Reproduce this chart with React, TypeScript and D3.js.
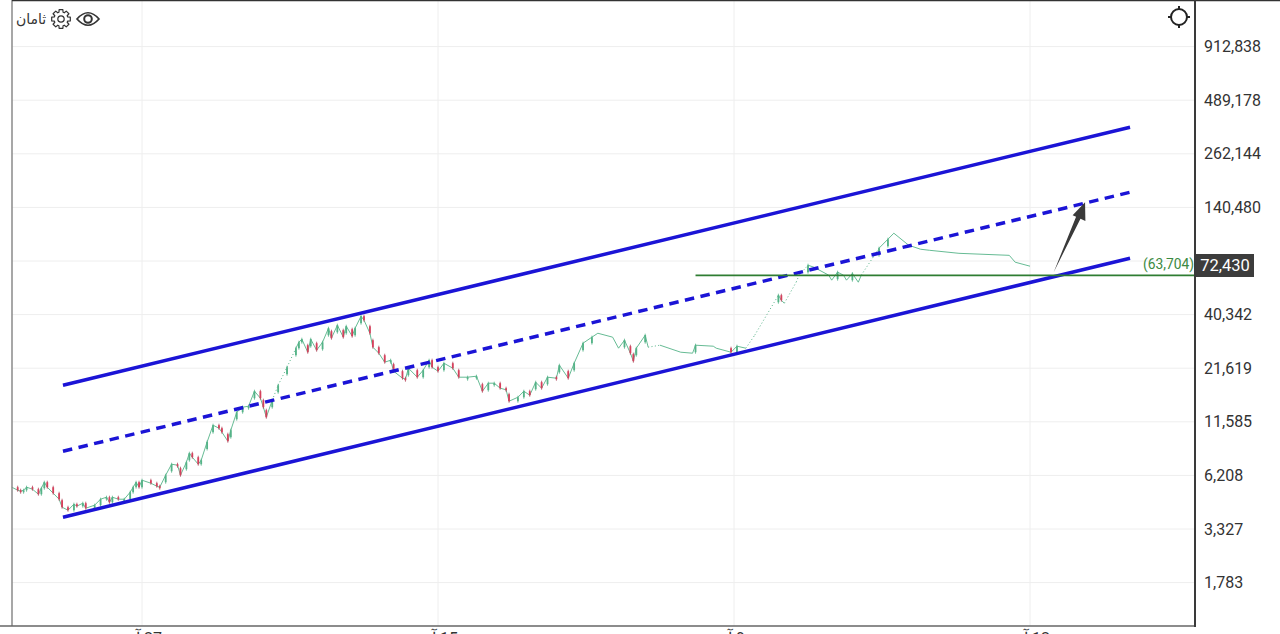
import React from "react";
import * as d3 from "d3";

const priceTicks = [912838, 489178, 262144, 140480, 75281, 40342, 21619, 11585, 6208, 3327, 1783];
const sessionTicks = [100, 200, 300, 400];
const sessionLabels = ["27", "15", "9", "12"];

const sessions = [56,58,59,60,61,63,65,66,67,68,70,72,73,75,77,78,80,81,84,86,88,89,90,92,94,96,97,98,99,100,103,105,106,108,110,112,113,115,116,117,119,120,122,124,126,127,129,130,132,134,136,138,140,141,142,144,146,149,152,153,154,156,157,159,161,163,164,166,168,169,171,172,174,175,177,178,180,182,184,185,188,189,190,193,195,197,198,200,202,205,207,210,213,215,217,219,221,223,224,227,229,231,233,235,237,240,241,244,246,249,252,254,259,261,263,265,266,267,270,271,275,282,286,287,293,294,299,301,304,307,315,316,317,321,322,325,327,332,333,335,337,338,340,342,343,347,349,352,354,359,363,366,376,393,395,400];
const closes = [5412,5226,5165,5226,5412,5287,4988,5349,5736,5412,5046,4706,4287,4141,4441,4339,4492,4238,4389,4706,4817,4544,4817,4706,4706,5105,5412,5736,5412,5871,5669,5475,5412,6222,7072,6990,6222,7239,8039,7672,7072,7409,9158,11135,10754,10268,9245,10506,12954,13733,13892,16540,15248,13733,12222,14896,17732,21872,27285,29254,30297,26042,30297,26656,29254,34436,30660,35660,31025,35247,31374,34436,39600,37800,32477,27607,25745,23182,23729,20877,19244,19020,21619,19470,21120,23729,21872,20877,22914,21619,19470,19470,19700,16540,18159,18159,17130,16812,14723,15420,16540,15790,18370,17130,19470,19244,22387,19244,22914,28926,31025,32477,31025,27285,29950,25745,23460,27285,31745,27607,28255,26042,25745,28255,27930,27285,26042,27930,27285,31745,50560,47700,46060,58820,63820,71690,70040,63820,60230,66100,63820,60230,65000,58820,63820,78680,87380,97010,104040,90490,86350,85300,82320,80420,74230,70860];

// session spans with sparse trading, drawn as dots
const dottedSpans = [[144, 152], [304, 315], [317, 325], [343, 349], [271, 275]];
const firstLineOnlySession = 271;
const lateCandleSessions = [287, 299, 301, 315, 316, 325, 335, 340, 349, 352];
const noCandleSessions = [254, 259, 261];

const upperChannel = { s: [73.3, 433.8], p: [17732, 357200] };
const middleChannel = { s: [73.3, 433.8], p: [8227, 167660] };
const lowerChannel = { s: [73.3, 433.8], p: [3817, 77770] };
const supportPrice = 63704;
const supportStart = 287;
const lastPrice = 72430;
const arrowFrom = { s: 408, p: 66100 };
const arrowTo = { s: 418.6, p: 149200 };

const x = d3.scaleLinear().domain([100, 400]).range([142, 1030]);
const y = d3.scaleLog().domain([1783, 912838]).range([582.6, 46.6]);
const fmt = d3.format(",");
const FONT = "Roboto, sans-serif";
const GREEN = "#55b388";
const RED = "#d6405c";
const BLUE = "#1b14d6";

const inDotted = (a: number, b: number) => dottedSpans.some(([u, v]) => a >= u && b <= v);

function Gear({ cx, cy }: { cx: number; cy: number }) {
  const pts: [number, number][] = [];
  for (let i = 0; i < 8; i++) {
    const a = (i * Math.PI) / 4;
    [[-0.3, 7], [-0.2, 9.5], [0.2, 9.5], [0.3, 7]].forEach(([o, r]) => pts.push([a + o, r]));
  }
  const d = d3.lineRadial().curve(d3.curveLinearClosed)(pts) as string;
  return (
    <g transform={`translate(${cx},${cy})`} fill="none" stroke="#333" strokeWidth={1.2}>
      <path d={d} strokeLinejoin="round" />
      <circle r={3.2} />
    </g>
  );
}

export default function App() {
  const segments = sessions.slice(1).map((s, i) => {
    const a = sessions[i];
    return { a, s, p0: closes[i], p1: closes[i + 1], dotted: inDotted(a, s) };
  });
  const hasCandle = (s: number) =>
    s >= firstLineOnlySession ? lateCandleSessions.includes(s) : !noCandleSessions.includes(s);

  const channelPath = (c: { s: number[]; p: number[] }) =>
    d3.line<number>().x((v) => x(v)).y((_, i) => y(c.p[i]))(c.s) as string;

  // tapered arrow
  const ax = x(arrowFrom.s), ay = y(arrowFrom.p), bx = x(arrowTo.s), by = y(arrowTo.p);
  const len = Math.hypot(bx - ax, by - ay);
  const ux = (bx - ax) / len, uy = (by - ay) / len, nx = -uy, ny = ux;
  const hx = bx - ux * 17, hy = by - uy * 17;
  const arrow = [
    [ax, ay],
    [hx + nx * 2.6, hy + ny * 2.6],
    [hx + nx * 8, hy + ny * 8],
    [bx, by],
    [hx - nx * 6, hy - ny * 6],
    [hx - nx * 2.2, hy - ny * 2.2],
  ].map((p) => p.join(",")).join(" ");

  const ySupport = y(supportPrice);
  const yLast = y(lastPrice);

  return (
    <svg width={1280} height={634} style={{ position: "absolute", left: 0, top: 0, background: "#fff" }} fontFamily={FONT}>
      {priceTicks.map((t) => (
        <line key={t} x1={12} x2={1195} y1={y(t)} y2={y(t)} stroke="#eeeeee" strokeWidth={1} />
      ))}
      {sessionTicks.map((t) => (
        <line key={t} x1={x(t)} x2={x(t)} y1={0} y2={626} stroke="#eeeeee" strokeWidth={1} />
      ))}

      {segments.map((g) => (
        <line
          key={g.s}
          x1={x(g.a)} x2={x(g.s)} y1={y(g.p0)} y2={y(g.p1)}
          stroke={GREEN}
          strokeWidth={g.dotted ? 1 : 0.9}
          strokeDasharray={g.dotted ? "1 2.4" : undefined}
        />
      ))}
      {segments.filter((g) => hasCandle(g.s)).map((g) => {
        const y0 = y(g.p0), y1 = y(g.p1);
        const up = g.p1 >= g.p0;
        const top = Math.min(y0, y1);
        const h = Math.max(Math.min(Math.abs(y1 - y0), 7), 2);
        const bodyTop = up ? y1 : Math.max(top, y1 - h);
        return (
          <g key={g.s}>
            <line x1={x(g.s)} x2={x(g.s)} y1={bodyTop - 1.5} y2={bodyTop + h + 1.5} stroke={up ? GREEN : "#b0465a"} strokeWidth={0.8} />
            <rect x={x(g.s) - 0.9} width={1.8} y={bodyTop} height={h} fill={up ? GREEN : RED} />
          </g>
        );
      })}

      <path d={channelPath(upperChannel)} fill="none" stroke={BLUE} strokeWidth={3.5} />
      <path d={channelPath(middleChannel)} fill="none" stroke={BLUE} strokeWidth={3.5} strokeDasharray="9.5 6.5" />
      <path d={channelPath(lowerChannel)} fill="none" stroke={BLUE} strokeWidth={3.5} />
      <line x1={x(supportStart)} x2={1195} y1={ySupport} y2={ySupport} stroke="#2f7d32" strokeWidth={1.6} />
      <polygon points={arrow} fill="#3a3a3a" />
      <text x={1194} y={264} dy="0.35em" textAnchor="end" fontSize={14} fill="#3c8a42" textLength={51} lengthAdjust="spacingAndGlyphs">
        ({fmt(supportPrice)})
      </text>

      <line x1={12} x2={12} y1={0} y2={626} stroke="#8a8a8a" strokeWidth={1.5} />
      <line x1={12} x2={1280} y1={0.5} y2={0.5} stroke="#333" strokeWidth={1.5} />
      <line x1={0} x2={1195} y1={626} y2={626} stroke="#666" strokeWidth={1.5} />
      <line x1={1195} x2={1195} y1={0} y2={627} stroke="#3a3a3a" strokeWidth={2} />

      {priceTicks.map((t) => (
        <text key={t} x={1204} y={y(t)} dy="0.35em" fontSize={16} fill="#333">{fmt(t)}</text>
      ))}
      <rect x={1196} y={254} width={58} height={23} fill="#3c3c3c" />
      <text x={1225} y={265.5} dy="0.35em" textAnchor="middle" fontSize={16.5} fill="#fff">{fmt(lastPrice)}</text>

      {sessionTicks.map((t, i) => (
        <text key={t} x={x(t) - 6} y={644} fontSize={16} fill="#333">{"آ\u200E " + sessionLabels[i]}</text>
      ))}

      <text x={16} y={24} fontSize={14} fill="#333" fontFamily="'Noto Sans', 'DejaVu Sans', sans-serif" direction="rtl" textAnchor="end">ثامان</text>
      <Gear cx={61} cy={19} />
      <g fill="none" stroke="#333" strokeWidth={1.7}>
        <path d="M77 19 Q88 6.5 99 19 Q88 31.5 77 19 Z" />
        <circle cx={88} cy={19} r={3.8} strokeWidth={2} />
      </g>
      <g fill="none" stroke="#222" strokeWidth={2}>
        <circle cx={1179} cy={17} r={8} />
        <path d="M1179 6V9.5M1179 24.5V28M1168 17H1171.5M1186.5 17H1190" />
      </g>
    </svg>
  );
}
